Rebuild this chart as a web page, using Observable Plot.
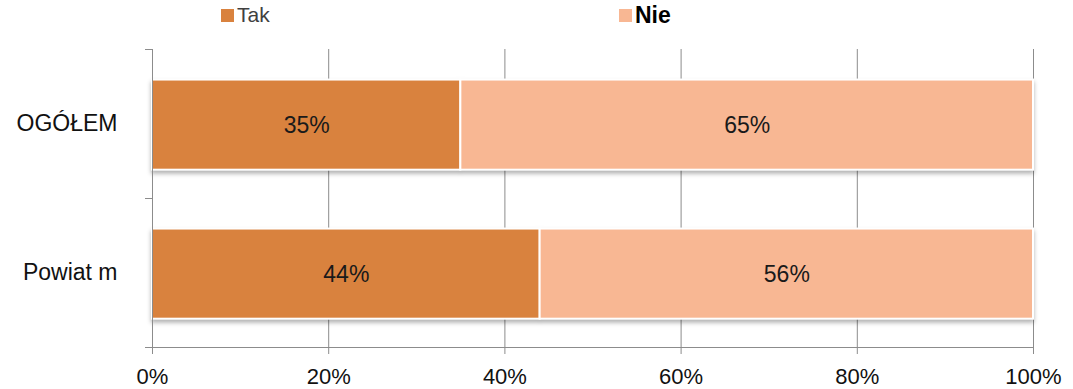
<!DOCTYPE html>
<html>
<head>
<meta charset="utf-8">
<script src="https://cdn.jsdelivr.net/npm/d3@7"></script>
<script src="https://cdn.jsdelivr.net/npm/@observablehq/plot@0.6"></script>
<style>
  html, body { margin: 0; padding: 0; background: #fff; overflow: hidden; }
  #wrap { position: relative; width: 1073px; height: 389px; font-family: "Liberation Sans", Arial, sans-serif; }
  #legend { position: absolute; left: 0; top: 0; width: 1073px; height: 30px; z-index: 2; }
  .item { position: absolute; top: 3px; display: flex; align-items: center; }
  .swatch { width: 13px; height: 13px; margin-right: 3px; }
  .item span { line-height: 24px; }
  g[aria-label="rect"] { filter: drop-shadow(0px 3px 2px rgba(0,0,0,0.3)); }
</style>
</head>
<body>
<div id="wrap">
  <div id="legend"></div>
  <div id="chart"></div>
</div>
<script>
// Share of answers per group
const categories = ["OGÓŁEM", "Powiat m"];
const answers = ["Tak", "Nie"];
const tak = [35, 44];
const nie = [65, 56];
const xTicks = [0, 20, 40, 60, 80, 100];
const colors = ["#D9823E", "#F8B793"];

// Stacked rows: one segment per group and answer
const series = [tak, nie];
const rows = categories.flatMap((category, i) => {
  let start = 0;
  return answers.map((answer, j) => {
    const value = series[j][i];
    const row = {category, idx: i, answer, value, x1: start, x2: start + value};
    start += value;
    return row;
  });
});

const axisGrey = "#8c8c8c";

const chart = Plot.plot({
  width: 1073,
  height: 389,
  marginLeft: 152,
  marginRight: 40,
  marginTop: 49,
  marginBottom: 42,
  style: {fontFamily: "'Liberation Sans', Arial, sans-serif", fontSize: "22px", background: "transparent"},
  x: {domain: [0, 100], label: null},
  y: {domain: [2, 0], label: null},
  color: {domain: answers, range: colors},
  marks: [
    Plot.gridX(xTicks.slice(1), {stroke: axisGrey, strokeOpacity: 1}),
    Plot.rectX(rows, {
      x1: "x1", x2: "x2",
      y1: d => d.idx + 0.205, y2: d => d.idx + 0.81,
      fill: "answer", stroke: "white", strokeWidth: 2
    }),
    Plot.text(rows, {
      x: d => (d.x1 + d.x2) / 2,
      y: d => d.idx + 0.51,
      text: d => d.value + "%",
      fontSize: 23,
      fill: "#1a1a1a"
    }),
    Plot.ruleY([2], {stroke: axisGrey, insetLeft: -7}),
    Plot.ruleX([0], {stroke: axisGrey, insetBottom: -7}),
    Plot.axisX(xTicks, {
      tickSize: 7, tickPadding: 14, label: null,
      tickFormat: d => d + "%",
      stroke: axisGrey, fill: "#111", fontSize: 22
    }),
    Plot.axisY([0, 1, 2], {tickSize: 7, tickFormat: () => "", label: null, stroke: axisGrey}),
    Plot.axisY([0.5, 1.5], {
      tickSize: 0, tickPadding: 35, label: null,
      tickFormat: d => categories[Math.floor(d)],
      fill: "#111", fontSize: 23
    })
  ]
});
document.getElementById("chart").appendChild(chart);

// Legend above the plot area
const legendPos = [
  {left: 221, color: "#404040", size: 21, weight: "normal"},
  {left: 619, color: "#000", size: 23, weight: "bold"}
];
const legend = document.getElementById("legend");
answers.forEach((a, i) => {
  const item = document.createElement("div");
  item.className = "item";
  item.style.left = legendPos[i].left + "px";
  const sw = document.createElement("div");
  sw.className = "swatch";
  sw.style.background = colors[i];
  const label = document.createElement("span");
  label.textContent = a;
  label.style.color = legendPos[i].color;
  label.style.fontSize = legendPos[i].size + "px";
  label.style.fontWeight = legendPos[i].weight;
  item.appendChild(sw);
  item.appendChild(label);
  legend.appendChild(item);
});
</script>
</body>
</html>
